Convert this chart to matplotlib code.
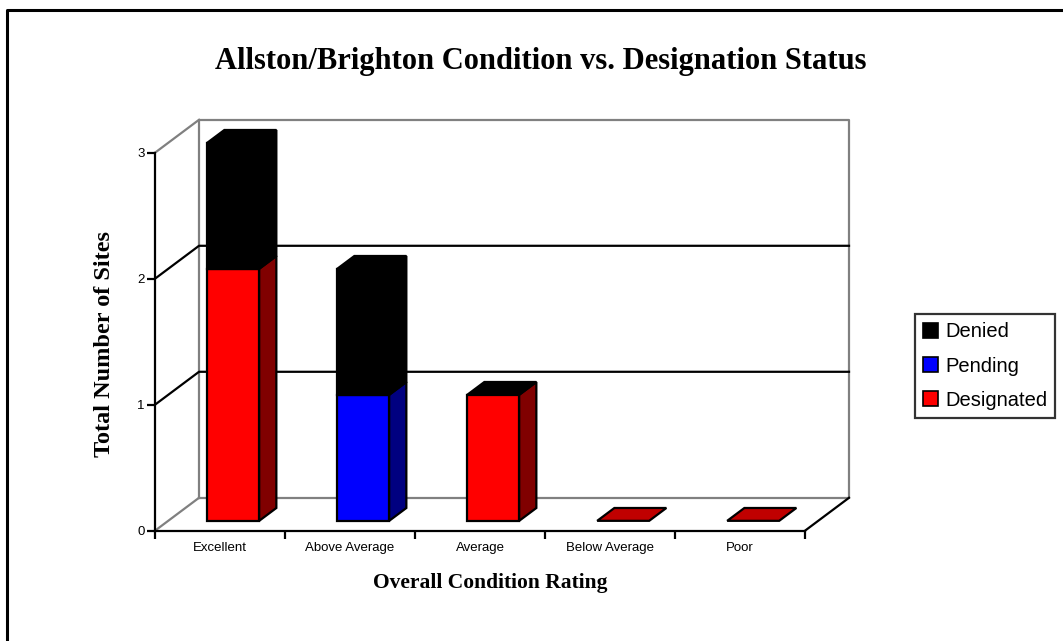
import matplotlib
matplotlib.use("Agg")
import matplotlib.pyplot as plt
from matplotlib.patches import Polygon, Patch
from matplotlib.lines import Line2D

# ---- data -------------------------------------------------------------
categories = ["Excellent", "Above Average", "Average", "Below Average", "Poor"]
designated = [2, 0, 1, 0, 0]
pending = [0, 1, 0, 0, 0]
denied = [1, 1, 0, 0, 0]
y_ticks = [0, 1, 2, 3]

series_names = ["Designated", "Pending", "Denied"]
series_values = [designated, pending, denied]
front_colors = ["#FF0000", "#0000FF", "#000000"]
side_colors = ["#800000", "#000080", "#000000"]
top_colors = ["#C00000", "#0000C0", "#000000"]

# ---- 3-D look: depth direction in data units ---------------------------
DX, DY = 0.3385, 0.2612      # full depth of the floor / walls
T0, T1 = 0.30, 0.69          # bar front and back depth fractions
BAR_L, BAR_R = 0.30, 0.70    # bar extent inside a category slot


def proj(x, y, t):
    return (x + t * DX, y + t * DY)


W, H = 1063, 641
fig = plt.figure(figsize=(W / 100, H / 100), dpi=100)
ax = fig.add_axes([155 / W, 110.3 / H, 650 / W, 378 / H])
ax.set_xlim(0, len(categories))
ax.set_ylim(0, max(y_ticks))
ax.patch.set_visible(False)

ymax = max(y_ticks)
ncat = len(categories)
gray = "#808080"

# walls and floor edges
wall_lw = 1.6
ax.plot([DX, DX, ncat + DX, ncat + DX, DX],
        [DY, ymax + DY, ymax + DY, DY, DY],
        color=gray, lw=wall_lw, clip_on=False, zorder=1)
for yv in (0, ymax):
    ax.plot([0, DX], [yv, yv + DY], color=gray, lw=wall_lw,
            clip_on=False, zorder=1)
for yv in y_ticks[1:-1]:
    ax.plot([0, DX, ncat + DX], [yv, yv + DY, yv + DY], color="black",
            lw=1.6, clip_on=False, zorder=1)
ax.plot([ncat, ncat + DX], [0, DY], color="black", lw=1.6,
        clip_on=False, zorder=1)

# stacked 3-D bars
edge_kw = dict(edgecolor="black", lw=1.6, joinstyle="miter",
               clip_on=False, zorder=3)
for i in range(ncat):
    x0, x1 = i + BAR_L, i + BAR_R
    base = 0.0
    for s, vals in enumerate(series_values):
        v = vals[i]
        if v <= 0:
            continue
        top = base + v
        front = [proj(x0, base, T0), proj(x1, base, T0),
                 proj(x1, top, T0), proj(x0, top, T0)]
        side = [proj(x1, base, T0), proj(x1, base, T1),
                proj(x1, top, T1), proj(x1, top, T0)]
        ax.add_patch(Polygon(front, closed=True, facecolor=front_colors[s],
                             **edge_kw))
        ax.add_patch(Polygon(side, closed=True, facecolor=side_colors[s],
                             **edge_kw))
        base = top
    # the lid comes from the uppermost series when the stack has height
    lid_color = top_colors[-1] if base > 0 else top_colors[0]
    lid = [proj(x0, base, T0), proj(x1, base, T0),
           proj(x1, base, T1), proj(x0, base, T1)]
    ax.add_patch(Polygon(lid, closed=True, facecolor=lid_color, **edge_kw))

# axes: front y-axis and floor front edge
for side in ("top", "right"):
    ax.spines[side].set_visible(False)
ax.spines["left"].set_bounds(0, ymax)
ax.spines["bottom"].set_bounds(0, ncat)
for side in ("left", "bottom"):
    ax.spines[side].set_linewidth(1.6)
    ax.spines[side].set_zorder(4)

ax.set_yticks(y_ticks)
ax.set_yticklabels([str(v) for v in y_ticks], fontsize=9.5,
                   family="Liberation Sans")
ax.tick_params(axis="y", length=5.5, width=1.6, pad=2)
ax.set_xticks(range(ncat + 1))
ax.set_xticklabels([])
ax.tick_params(axis="x", which="major", length=5.5, width=1.6)
ax.set_xticks([i + 0.5 for i in range(ncat)], minor=True)
ax.set_xticklabels(categories, minor=True, fontsize=9.5,
                   family="Liberation Sans")
ax.tick_params(axis="x", which="minor", length=0, pad=8)

# titles
fig.text(541 / W, 1 - 61 / H, "Allston/Brighton Condition vs. Designation Status",
         ha="center", va="center", fontsize=22, fontweight="bold",
         family="Liberation Serif")
fig.text(490 / W, 1 - 583 / H, "Overall Condition Rating",
         ha="center", va="center", fontsize=15.5, fontweight="bold",
         family="Liberation Serif")
fig.text(104 / W, 1 - 344 / H, "Total Number of Sites",
         ha="center", va="center", rotation=90, fontsize=17.5,
         fontweight="bold", family="Liberation Serif")

# legend (top entry is the top of the stack)
handles = [Patch(facecolor=front_colors[s], edgecolor="black", lw=1.2)
           for s in reversed(range(len(series_names)))]
labels = list(reversed(series_names))
leg = fig.legend(handles, labels, loc="center left",
                 bbox_to_anchor=(915 / W, 1 - 366 / H),
                 prop={"family": "Liberation Sans", "size": 14.5},
                 frameon=True, fancybox=False, borderpad=0.4,
                 handlelength=0.75, handleheight=0.75, handletextpad=0.35,
                 labelspacing=0.75, borderaxespad=0)
leg.get_frame().set_edgecolor("black")
leg.get_frame().set_linewidth(1.6)

# outer frame (top and left edges)
fig.add_artist(Line2D([7 / W, 7 / W, 1.0], [0.0, 1 - 10 / H, 1 - 10 / H],
                      transform=fig.transFigure, color="black", lw=2.2))

fig.savefig("out.png", dpi=100)
